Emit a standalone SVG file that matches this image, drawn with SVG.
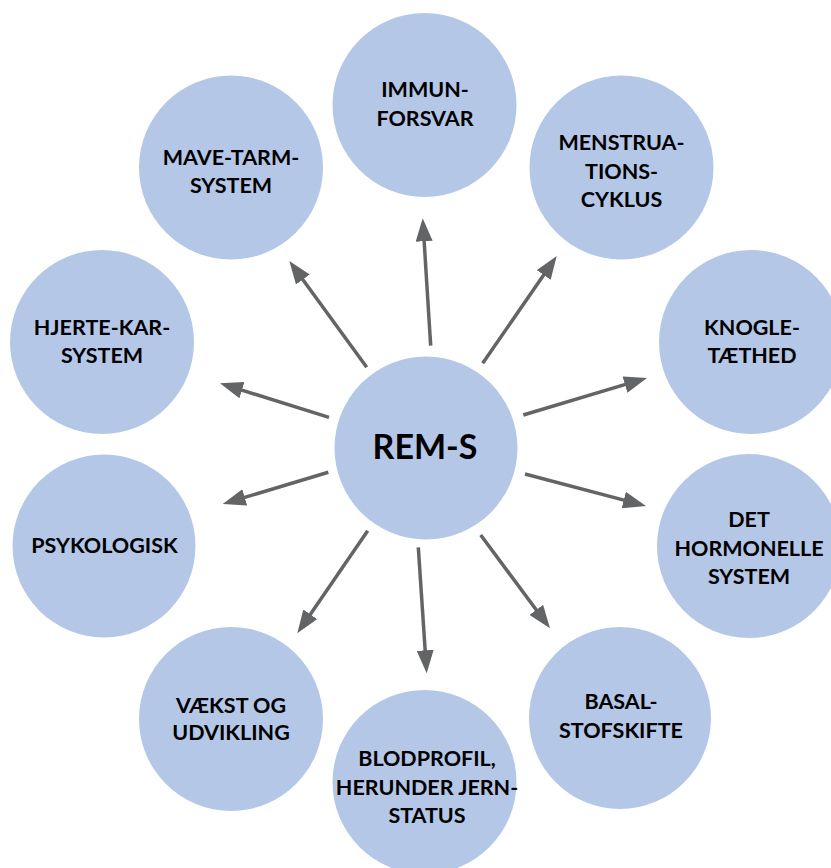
<svg xmlns="http://www.w3.org/2000/svg" width="831" height="868" viewBox="0 0 831 868">
  <style>
    .node { fill: #B4C7E7; }
    .lbl { font-family: Lato, "Open Sans", "Liberation Sans", sans-serif; font-weight: bold; font-size: 21.5px; fill: #000; text-anchor: middle; }
    .main { font-size: 34px; }
    .arrow { stroke: #636466; stroke-width: 3.5; fill: none; marker-end: url(#head); }
  </style>
  <defs>
    <marker id="head" markerUnits="userSpaceOnUse" markerWidth="23" markerHeight="17" refX="11" refY="8.5" orient="auto">
      <path d="M0,0 L23,8.5 L0,17 Z" fill="#636466"/>
    </marker>
  </defs>
  <rect width="831" height="868" fill="#fff"/>

  <!-- spokes from the hub to each topic -->
  <g id="connectors">
    <line class="arrow" x1="430.7" y1="345.7" x2="423.45" y2="230.3"/>
    <line class="arrow" x1="482.7" y1="363.3" x2="549.9" y2="265.9"/>
    <line class="arrow" x1="523.3" y1="415" x2="635.5" y2="381.4"/>
    <line class="arrow" x1="525" y1="474" x2="634.4" y2="502.9"/>
    <line class="arrow" x1="480.7" y1="535" x2="542.85" y2="618.7"/>
    <line class="arrow" x1="418.3" y1="547.3" x2="425.9" y2="661.3"/>
    <line class="arrow" x1="367.7" y1="530.7" x2="304.1" y2="623.4"/>
    <line class="arrow" x1="328.3" y1="472.3" x2="234.2" y2="500.55"/>
    <line class="arrow" x1="329" y1="417.3" x2="231.45" y2="386.9"/>
    <line class="arrow" x1="366.7" y1="367.3" x2="296.4" y2="270.7"/>
  </g>

  <g id="rem-s">
    <circle class="node" cx="426" cy="448" r="91.5"/>
    <text class="lbl main" x="425" y="459">REM-S</text>
  </g>

  <g id="immunforsvar">
    <circle class="node" cx="424.5" cy="105" r="92"/>
    <text class="lbl" x="425" y="97">IMMUN-</text>
    <text class="lbl" x="425" y="126">FORSVAR</text>
  </g>

  <g id="menstruationscyklus">
    <circle class="node" cx="621.5" cy="167.5" r="92"/>
    <text class="lbl" x="621.5" y="150">MENSTRUA-</text>
    <text class="lbl" x="621.5" y="178.5">TIONS-</text>
    <text class="lbl" x="621.5" y="207">CYKLUS</text>
  </g>

  <g id="knogletaethed">
    <circle class="node" cx="751" cy="342" r="92"/>
    <text class="lbl" x="752" y="335">KNOGLE-</text>
    <text class="lbl" x="752" y="363">TÆTHED</text>
  </g>

  <g id="hormonelle-system">
    <circle class="node" cx="749" cy="546" r="92"/>
    <text class="lbl" x="749" y="527">DET</text>
    <text class="lbl" x="749" y="556">HORMONELLE</text>
    <text class="lbl" x="749" y="584">SYSTEM</text>
  </g>

  <g id="basalstofskifte">
    <circle class="node" cx="620" cy="718" r="91"/>
    <text class="lbl" x="621" y="709">BASAL-</text>
    <text class="lbl" x="621" y="738">STOFSKIFTE</text>
  </g>

  <g id="blodprofil">
    <circle class="node" cx="424.5" cy="782" r="92"/>
    <text class="lbl" x="427" y="766">BLODPROFIL,</text>
    <text class="lbl" x="427" y="795">HERUNDER JERN-</text>
    <text class="lbl" x="427" y="823">STATUS</text>
  </g>

  <g id="vaekst-udvikling">
    <circle class="node" cx="231" cy="719" r="92"/>
    <text class="lbl" x="231" y="713">VÆKST OG</text>
    <text class="lbl" x="231" y="740">UDVIKLING</text>
  </g>

  <g id="psykologisk">
    <circle class="node" cx="104" cy="546" r="91.5"/>
    <text class="lbl" x="104.5" y="553">PSYKOLOGISK</text>
  </g>

  <g id="hjerte-kar-system">
    <circle class="node" cx="102" cy="342" r="92"/>
    <text class="lbl" x="102" y="335">HJERTE-KAR-</text>
    <text class="lbl" x="102" y="363">SYSTEM</text>
  </g>

  <g id="mave-tarm-system">
    <circle class="node" cx="231" cy="167.5" r="92"/>
    <text class="lbl" x="231" y="165">MAVE-TARM-</text>
    <text class="lbl" x="231" y="193">SYSTEM</text>
  </g>
</svg>
